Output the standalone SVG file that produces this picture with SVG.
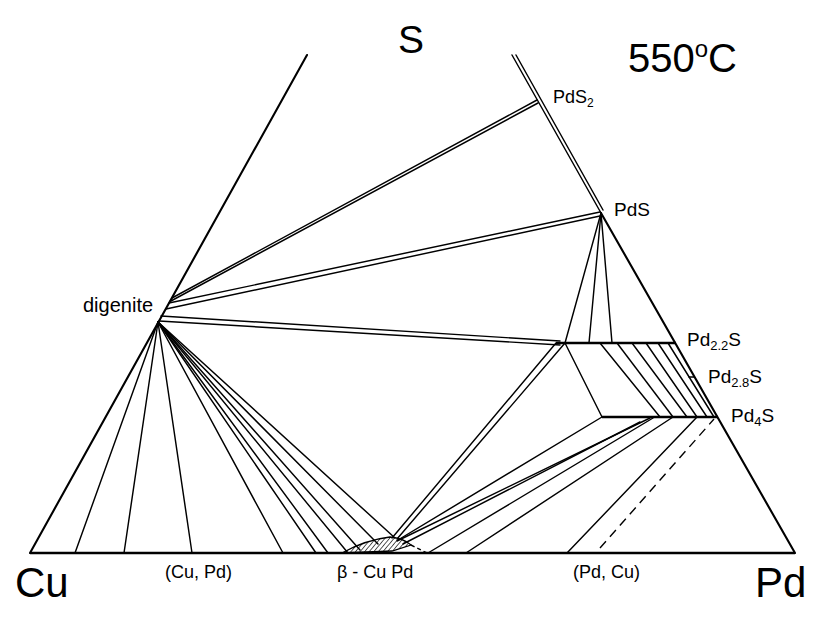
<svg xmlns="http://www.w3.org/2000/svg" width="830" height="623" viewBox="0 0 830 623">
<defs>
<pattern id="hatch" width="3.5" height="3.5" patternUnits="userSpaceOnUse" patternTransform="rotate(40)">
<line x1="0" y1="0" x2="0" y2="3.5" stroke="#000" stroke-width="1.3"/>
</pattern>
</defs>
<style>
.t{stroke:#000;stroke-width:1.45;fill:none;stroke-linecap:round}
.e{stroke:#000;stroke-width:2.1;fill:none;stroke-linecap:round}
.h{stroke:#000;stroke-width:2.7;fill:none}
.d{stroke:#000;stroke-width:1.4;fill:none;stroke-dasharray:9 6}
text{font-family:"Liberation Sans",Arial,Helvetica,sans-serif;fill:#000}
.lg{font-size:40px}
.md{font-size:19px}
.sm{font-size:18px}
</style>
<rect width="830" height="623" fill="#fff"/>

<g id="triangle">
<path class="e" d="M30 553 L307 55"/>
<path class="h" d="M30 553 L795 553"/>
<path class="e" d="M601 213 L795 553"/>
<path class="t" d="M512 55 L601 213"/>
<path class="t" d="M516 55 L603 210"/>
</g>

<g id="tielines-upper">
<path class="t" d="M172 298 L537 100"/>
<path class="t" d="M170 301.5 L538 103"/>
<path class="t" d="M169 303 L600 212"/>
<path class="t" d="M166 309 L600 216"/>
<path class="t" d="M161 316 L560 341"/>
<path class="t" d="M159 321 L560 345"/>
<path class="t" d="M601 213 L565 343"/>
<path class="t" d="M601 213 L589 343"/>
<path class="t" d="M601 213 L612 343"/>
</g>

<g id="pd-sulfides">
<path class="h" d="M556 343 L676 343"/>
<path class="t" d="M565 343 L602 417"/>
<path class="h" d="M602 417 L718 417"/>
<path class="t" d="M600 343 L660 417"/>
<path class="t" d="M617 343 L673 417"/>
<path class="t" d="M632 343 L687 417"/>
<path class="t" d="M646 343 L697 417"/>
<path class="t" d="M658 343 L707 417"/>
<path class="t" d="M668 343 L714 417"/>
<path class="t" d="M689 377 L694 377"/>
</g>

<g id="digenite-fan">
<path class="t" d="M158 322 L75 553"/>
<path class="t" d="M158 322 L124 553"/>
<path class="t" d="M158 322 L192 553"/>
<path class="t" d="M158 322 L283 553"/>
<path class="t" d="M158 322 L316 553"/>
<path class="t" d="M158 322 L328 553"/>
<path class="t" d="M158 322 L348 553"/>
<path class="t" d="M158 322 L360 550"/>
<path class="t" d="M158 322 L378 544"/>
<path class="t" d="M158 322 L395 538"/>
</g>

<g id="beta-CuPd">
<path d="M342 553 Q365 540 390 537 Q403 538 411 545 L392 551 Z" fill="url(#hatch)" stroke="#000" stroke-width="1.3"/>
<path class="d" d="M411 545 L427 553" style="stroke-dasharray:4 3"/>
</g>

<g id="tielines-lower">
<path class="t" d="M392 538 L556 343"/>
<path class="t" d="M397 539 L565 343"/>
<path class="t" d="M398 540 L602 417"/>
<path class="t" d="M397 541 L650 418"/>
<path class="t" d="M403 544 L640 422"/>
<path class="t" d="M428 553 L653 418"/>
<path class="t" d="M466 553 L673 417"/>
<path class="t" d="M567 553 L697 417"/>
<path class="d" d="M600 548 L714 419"/>
</g>

<g id="labels">
<text x="398" y="53" style="font-size:39px">S</text>
<text x="628" y="72" class="lg">550<tspan style="font-size:24px" dy="-15">o</tspan><tspan dy="15">C</tspan></text>
<text x="553" y="103" class="sm">PdS<tspan style="font-size:12px" dy="4">2</tspan></text>
<text x="614" y="216" class="md">PdS</text>
<text x="687" y="346" class="md">Pd<tspan style="font-size:13px" dy="4">2.2</tspan><tspan dy="-4">S</tspan></text>
<text x="708" y="383" class="md">Pd<tspan style="font-size:13px" dy="4">2.8</tspan><tspan dy="-4">S</tspan></text>
<text x="731" y="422" class="md">Pd<tspan style="font-size:13px" dy="4">4</tspan><tspan dy="-4">S</tspan></text>
<text x="83" y="312" style="font-size:20px">digenite</text>
<text x="15" y="597" style="font-size:42px">Cu</text>
<text x="755" y="597" style="font-size:42px">Pd</text>
<text x="165" y="578" class="sm">(Cu, Pd)</text>
<text x="337" y="578" class="sm">β - Cu Pd</text>
<text x="573" y="578" class="sm">(Pd, Cu)</text>
</g>
</svg>
